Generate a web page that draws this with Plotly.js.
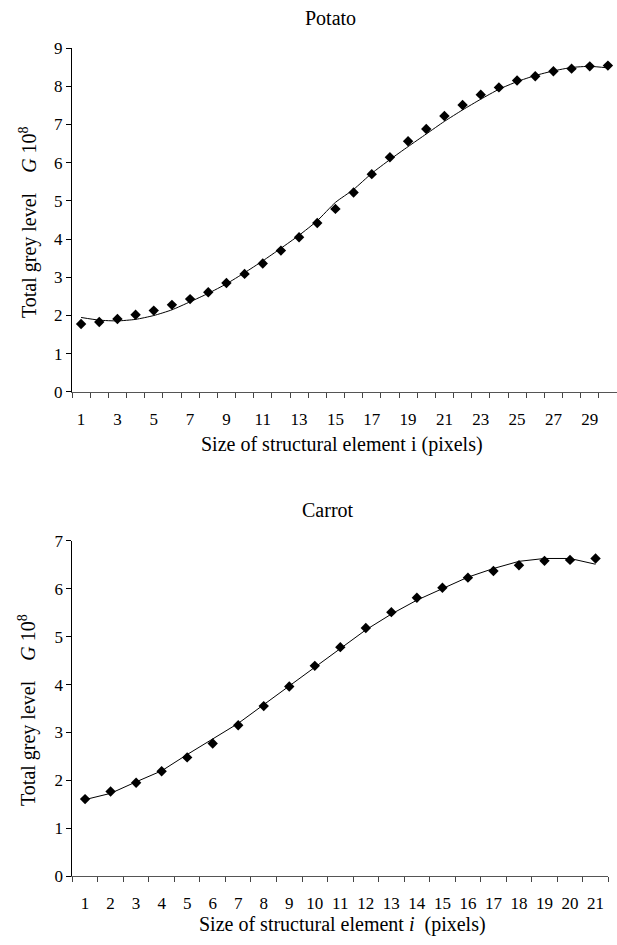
<!DOCTYPE html>
<html>
<head>
<meta charset="utf-8">
<script src="https://cdn.plot.ly/plotly-3.0.1.min.js"></script>
<style>html,body{margin:0;padding:0;background:#fff;}#chart{width:617px;height:945px;}</style>
</head>
<body>
<div id="chart"></div>
<script>
// Potato
const potatoSizes = [1,2,3,4,5,6,7,8,9,10,11,12,13,14,15,16,17,18,19,20,21,22,23,24,25,26,27,28,29,30];
const potatoMeasured = [1.78,1.83,1.91,2.02,2.13,2.28,2.43,2.61,2.85,3.09,3.36,3.70,4.05,4.42,4.79,5.22,5.70,6.14,6.56,6.88,7.22,7.51,7.78,7.97,8.15,8.26,8.39,8.46,8.52,8.54];
const potatoFit = [1.95,1.88,1.86,1.90,2.00,2.15,2.36,2.58,2.83,3.12,3.43,3.76,4.10,4.48,4.96,5.30,5.72,6.08,6.42,6.75,7.08,7.38,7.66,7.92,8.12,8.28,8.40,8.49,8.52,8.48];
const potatoTickLabels = ['1','3','5','7','9','11','13','15','17','19','21','23','25','27','29'];

// Carrot
const carrotSizes = [1,2,3,4,5,6,7,8,9,10,11,12,13,14,15,16,17,18,19,20,21];
const carrotMeasured = [1.61,1.77,1.95,2.19,2.48,2.77,3.15,3.55,3.96,4.39,4.78,5.18,5.51,5.81,6.02,6.23,6.37,6.49,6.58,6.60,6.63];
const carrotFit = [1.60,1.73,1.97,2.20,2.54,2.86,3.19,3.58,3.97,4.37,4.76,5.14,5.47,5.76,6.00,6.24,6.42,6.57,6.63,6.63,6.51];
const carrotTickLabels = ['1','2','3','4','5','6','7','8','9','10','11','12','13','14','15','16','17','18','19','20','21'];

const font = 'Liberation Serif, Times New Roman, serif';
const tickSize = 17;
const titleSize = 20;

const traces = [
  {x: potatoSizes, y: potatoFit, xaxis:'x', yaxis:'y', mode:'lines', line:{color:'#000', width:1, shape:'spline', smoothing:0.6}, hoverinfo:'skip'},
  {x: potatoSizes, y: potatoMeasured, xaxis:'x', yaxis:'y', mode:'markers', marker:{symbol:'diamond', size:8, color:'#000'}},
  {x: carrotSizes, y: carrotFit, xaxis:'x2', yaxis:'y2', mode:'lines', line:{color:'#000', width:1}, hoverinfo:'skip'},
  {x: carrotSizes, y: carrotMeasured, xaxis:'x2', yaxis:'y2', mode:'markers', marker:{symbol:'diamond', size:8, color:'#000'}}
];

function xAxis(n, domain, anchor, labels, standoff) {
  const vals = labels.map(Number);
  return {
    domain: domain, anchor: anchor, range:[0.5, n + 0.5],
    tickmode:'array', tickvals: vals, ticktext: labels,
    ticks:'outside', ticklen:standoff, tickcolor:'rgba(0,0,0,0)',
    minor:{tickmode:'linear', tick0:0.5, dtick:1, ticks:'outside', ticklen:5, tickcolor:'#444', tickwidth:1},
    showline:true, linecolor:'#555', linewidth:1, showgrid:false, zeroline:false,
    tickfont:{family:font, size:tickSize, color:'#000'}, fixedrange:true
  };
}
function yAxis(max, domain, anchor) {
  return {
    domain: domain, anchor: anchor, range:[0, max], dtick:1, tick0:0,
    ticks:'outside', ticklen:5, tickcolor:'#000', tickwidth:1,
    showline:true, linecolor:'#000', linewidth:1, showgrid:false, zeroline:false,
    tickfont:{family:font, size:tickSize, color:'#000'}, fixedrange:true
  };
}

const ytitle = 'Total grey level&nbsp;&nbsp;&nbsp;&nbsp;<i>G</i>&nbsp;10<sup>8</sup>';

function ann(text, x, y, size, angle) {
  return {text:text, xref:'paper', yref:'paper', x:x, y:y, xanchor:'center', yanchor:'middle',
          textangle: angle || 0, showarrow:false, font:{family:font, size:size, color:'#000'}};
}

const layout = {
  width:617, height:945,
  margin:{l:0, r:0, t:0, b:0},
  paper_bgcolor:'#fff', plot_bgcolor:'#fff',
  showlegend:false,
  font:{family:font, color:'#000'},
  xaxis: xAxis(30, [0.1167, 1.0], 'y', potatoTickLabels, 12),
  yaxis: yAxis(9, [0.5852, 0.9492], 'x'),
  xaxis2: xAxis(21, [0.1172, 0.9859], 'y2', carrotTickLabels, 11),
  yaxis2: yAxis(7, [0.0727, 0.4278], 'x2'),
  annotations: [
    ann('Potato', 0.535, 0.981, titleSize),
    ann('Carrot', 0.532, 0.4603, titleSize),
    ann('Size of structural element i (pixels)', 0.555, 0.5297, titleSize),
    ann('Size of structural element <i>i</i>&nbsp; (pixels)', 0.555, 0.0212, titleSize),
    ann(ytitle, 0.0454, 0.765, titleSize, -90),
    ann(ytitle, 0.0454, 0.2487, titleSize, -90)
  ]
};

Plotly.newPlot('chart', traces, layout, {displayModeBar:false, staticPlot:true});
</script>
</body>
</html>
